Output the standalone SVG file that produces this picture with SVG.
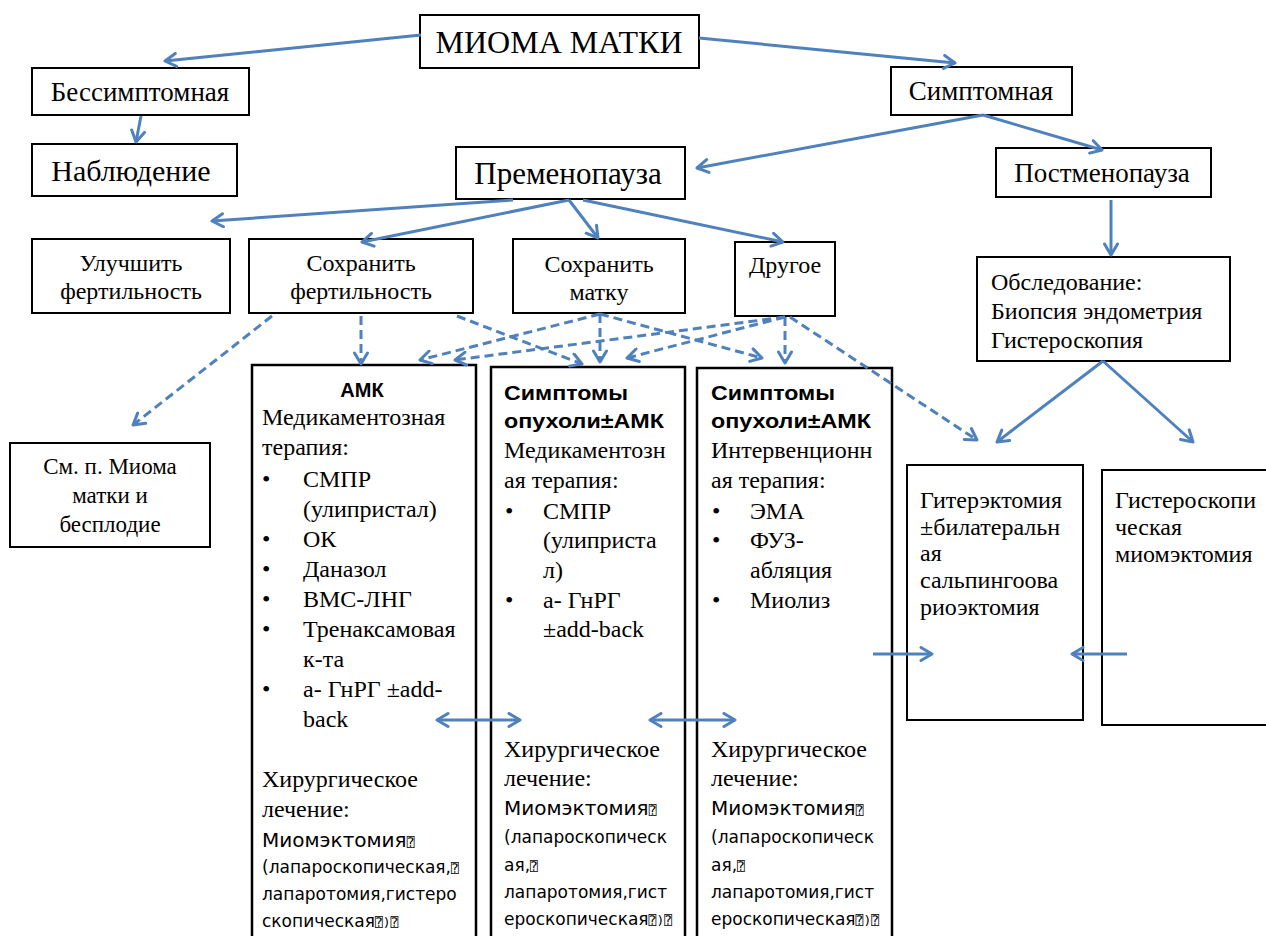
<svg xmlns="http://www.w3.org/2000/svg" width="1266" height="936" viewBox="0 0 1266 936">
<defs>
<marker id="ah" viewBox="-14 -8 16 16" refX="0" refY="0" markerWidth="16" markerHeight="16" markerUnits="userSpaceOnUse" orient="auto-start-reverse">
<path d="M-11,-6.5 L0,0 L-11,6.5" fill="none" stroke="#4F81BD" stroke-width="3" stroke-linecap="round" stroke-linejoin="round" stroke-dasharray="none"/>
</marker>
<style>
.box{fill:#fff;stroke:#000;stroke-width:2}
.col{fill:#fff;stroke:#000;stroke-width:2.5}
.s{font-family:'Liberation Serif','Tinos','DejaVu Serif','Times New Roman',serif;fill:#000}
.c{text-anchor:middle}
.b{font-family:'Liberation Sans','Arimo',Arial,sans-serif;font-weight:bold;font-size:20px;fill:#000}
.m{font-family:'DejaVu Sans',Verdana,sans-serif;fill:#000}
.q{font-family:'DejaVu Sans Mono','DejaVu Sans',monospace;font-size:13px}
.a{fill:none;stroke:#4F81BD;stroke-width:3;marker-end:url(#ah)}
.d{stroke-dasharray:9 5}
.dbl{marker-start:url(#ah)}
.f24{font-size:24px}
</style>
</defs>
<rect width="1266" height="936" fill="#fff"/>

<g id="n-mioma"><rect class="box" x="420" y="15" width="279" height="53"/><text class="s c" x="559" y="53" font-size="32">МИОМА МАТКИ</text></g>
<g id="n-bessimpt"><rect class="box" x="32" y="68" width="217" height="47"/><text class="s c" x="140" y="101" font-size="27">Бессимптомная</text></g>
<g id="n-nabl"><rect class="box" x="32" y="144" width="205" height="52"/><text class="s c" x="131" y="181" font-size="30">Наблюдение</text></g>
<g id="n-simpt"><rect class="box" x="891" y="67" width="181" height="48"/><text class="s c" x="981" y="100" font-size="27">Симптомная</text></g>
<g id="n-premeno"><rect class="box" x="456" y="147" width="229" height="52"/><text class="s c" x="568" y="184" font-size="31">Пременопауза</text></g>
<g id="n-postmeno"><rect class="box" x="996" y="148" width="215" height="49"/><text class="s c" x="1102" y="182" font-size="27">Постменопауза</text></g>
<g id="n-uluch"><rect class="box" x="32" y="239" width="198" height="74"/><text class="s c f24" x="131" y="271">Улучшить</text><text class="s c f24" x="131" y="299">фертильность</text></g>
<g id="n-sohrf"><rect class="box" x="249" y="239" width="224" height="74"/><text class="s c f24" x="361" y="271">Сохранить</text><text class="s c f24" x="361" y="299">фертильность</text></g>
<g id="n-sohrm"><rect class="box" x="513" y="239" width="172" height="74"/><text class="s c f24" x="599" y="272">Сохранить</text><text class="s c f24" x="599" y="300">матку</text></g>
<g id="n-drugoe"><rect class="box" x="735" y="242" width="100" height="74"/><text class="s c f24" x="785" y="273">Другое</text></g>
<g id="n-obsl"><rect class="box" x="977" y="257" width="253" height="104"/><text class="s f24" x="991" y="290">Обследование:</text><text class="s f24" x="991" y="319">Биопсия эндометрия</text><text class="s f24" x="991" y="348">Гистероскопия</text></g>
<g id="n-sm"><rect class="box" x="10" y="443" width="200" height="104"/><text class="s c" font-size="23" x="110" y="474">См. п. Миома</text><text class="s c" font-size="23" x="110" y="503">матки и</text><text class="s c" font-size="23" x="110" y="532">бесплодие</text></g>

<g id="n-amk">
<rect class="col" x="252" y="365" width="224" height="580"/>
<text class="b c" x="362" y="397" font-size="22">АМК</text>
<text class="s f24" x="262" y="425">Медикаментозная</text>
<text class="s f24" x="262" y="455">терапия:</text>
<text class="s f24" x="262" y="487">•</text><text class="s f24" x="303" y="487">СМПР</text>
<text class="s f24" x="303" y="517">(улипристал)</text>
<text class="s f24" x="262" y="547">•</text><text class="s f24" x="303" y="547">ОК</text>
<text class="s f24" x="262" y="577">•</text><text class="s f24" x="303" y="577">Даназол</text>
<text class="s f24" x="262" y="607">•</text><text class="s f24" x="303" y="607">ВМС-ЛНГ</text>
<text class="s f24" x="262" y="637">•</text><text class="s f24" x="303" y="637">Тренаксамовая</text>
<text class="s f24" x="303" y="667">к-та</text>
<text class="s f24" x="262" y="697">•</text><text class="s f24" x="303" y="697">а- ГнРГ ±add-</text>
<text class="s f24" x="303" y="727">back</text>
<text class="s f24" x="262" y="787">Хирургическое</text>
<text class="s f24" x="262" y="817">лечение:</text>
<text class="m" font-size="20" x="262" y="847">Миомэктомия<tspan class="q">⍰</tspan></text>
<text class="m" font-size="17" x="262" y="873">(лапароскопическая,<tspan class="q">⍰</tspan></text>
<text class="m" font-size="17" x="262" y="900">лапаротомия,гистеро</text>
<text class="m" font-size="17" x="262" y="927">скопическая<tspan class="q">⍰)⍰</tspan></text>
</g>

<g id="n-sympt1">
<rect class="col" x="491" y="367" width="194" height="580"/>
<text class="b" x="504" y="400" textLength="124" lengthAdjust="spacingAndGlyphs">Симптомы</text>
<text class="b" x="504" y="428" textLength="160" lengthAdjust="spacingAndGlyphs">опухоли±АМК</text>
<text class="s f24" x="504" y="458">Медикаментозн</text>
<text class="s f24" x="504" y="488">ая терапия:</text>
<text class="s f24" x="505" y="519">•</text><text class="s f24" x="543" y="519">СМПР</text>
<text class="s f24" x="543" y="548">(улиприста</text>
<text class="s f24" x="543" y="578">л)</text>
<text class="s f24" x="505" y="608">•</text><text class="s f24" x="543" y="608">а- ГнРГ</text>
<text class="s f24" x="543" y="637">±add-back</text>
<text class="s f24" x="504" y="757">Хирургическое</text>
<text class="s f24" x="504" y="786">лечение:</text>
<text class="m" font-size="20" x="504" y="815">Миомэктомия<tspan class="q">⍰</tspan></text>
<text class="m" font-size="17" x="504" y="843">(лапароскопическ</text>
<text class="m" font-size="17" x="504" y="871">ая,<tspan class="q">⍰</tspan></text>
<text class="m" font-size="17" x="504" y="898">лапаротомия,гист</text>
<text class="m" font-size="17" x="504" y="925">ероскопическая<tspan class="q">⍰)⍰</tspan></text>
</g>

<g id="n-sympt2">
<rect class="col" x="697" y="368" width="195" height="580"/>
<text class="b" x="711" y="400" textLength="124" lengthAdjust="spacingAndGlyphs">Симптомы</text>
<text class="b" x="711" y="428" textLength="160" lengthAdjust="spacingAndGlyphs">опухоли±АМК</text>
<text class="s f24" x="711" y="458">Интервенционн</text>
<text class="s f24" x="711" y="488">ая терапия:</text>
<text class="s f24" x="712" y="519">•</text><text class="s f24" x="750" y="519">ЭМА</text>
<text class="s f24" x="712" y="548">•</text><text class="s f24" x="750" y="548">ФУЗ-</text>
<text class="s f24" x="750" y="578">абляция</text>
<text class="s f24" x="712" y="608">•</text><text class="s f24" x="750" y="608">Миолиз</text>
<text class="s f24" x="711" y="757">Хирургическое</text>
<text class="s f24" x="711" y="786">лечение:</text>
<text class="m" font-size="20" x="711" y="815">Миомэктомия<tspan class="q">⍰</tspan></text>
<text class="m" font-size="17" x="711" y="843">(лапароскопическ</text>
<text class="m" font-size="17" x="711" y="871">ая,<tspan class="q">⍰</tspan></text>
<text class="m" font-size="17" x="711" y="898">лапаротомия,гист</text>
<text class="m" font-size="17" x="711" y="925">ероскопическая<tspan class="q">⍰)⍰</tspan></text>
</g>

<g id="n-hyst">
<rect class="box" x="907" y="465" width="176" height="255"/>
<text class="s f24" x="920" y="508">Гитерэктомия</text>
<text class="s f24" x="920" y="535">±билатеральн</text>
<text class="s f24" x="920" y="561">ая</text>
<text class="s f24" x="920" y="588">сальпингоова</text>
<text class="s f24" x="920" y="615">риоэктомия</text>
</g>
<g id="n-hsmyom">
<rect class="box" x="1102" y="470" width="180" height="255"/>
<text class="s f24" x="1115" y="508">Гистероскопи</text>
<text class="s f24" x="1115" y="535">ческая</text>
<text class="s f24" x="1115" y="562">миомэктомия</text>
</g>

<g id="connectors">
<line class="a" x1="421" y1="35" x2="165" y2="61"/>
<line class="a" x1="699" y1="38" x2="955" y2="63"/>
<line class="a" x1="141" y1="116" x2="136" y2="142"/>
<line class="a" x1="983" y1="115" x2="697" y2="168"/>
<line class="a" x1="983" y1="115" x2="1102" y2="150"/>
<line class="a" x1="513" y1="200" x2="212" y2="221"/>
<line class="a" x1="569" y1="200" x2="362" y2="242"/>
<line class="a" x1="569" y1="200" x2="598" y2="238"/>
<line class="a" x1="583" y1="200" x2="783" y2="242"/>
<line class="a" x1="1111" y1="200" x2="1111" y2="255"/>
<line class="a" x1="1103" y1="361" x2="997" y2="442"/>
<line class="a" x1="1103" y1="361" x2="1193" y2="442"/>
<line class="a dbl" x1="437" y1="720" x2="520" y2="720"/>
<line class="a dbl" x1="650" y1="720" x2="735" y2="720"/>
<line class="a" x1="873" y1="654" x2="932" y2="654"/>
<line class="a" x1="1127" y1="654" x2="1072" y2="654"/>
<line class="a d" x1="272" y1="316" x2="133" y2="425"/>
<line class="a d" x1="361" y1="316" x2="361" y2="364"/>
<line class="a d" x1="457" y1="316" x2="582" y2="364"/>
<line class="a d" x1="600" y1="314" x2="420" y2="360"/>
<line class="a d" x1="600" y1="314" x2="600" y2="362"/>
<line class="a d" x1="600" y1="314" x2="762" y2="358"/>
<line class="a d" x1="785" y1="317" x2="455" y2="360"/>
<line class="a d" x1="785" y1="317" x2="627" y2="358"/>
<line class="a d" x1="785" y1="317" x2="785" y2="363"/>
<line class="a d" x1="790" y1="317" x2="977" y2="440"/>
</g>
</svg>
